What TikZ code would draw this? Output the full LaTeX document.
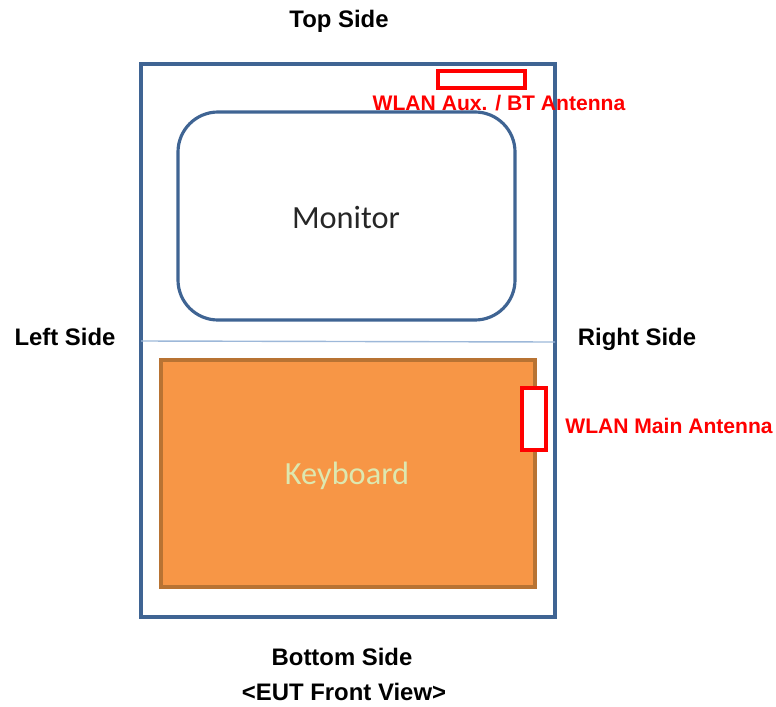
\documentclass[tikz,border=0pt]{standalone}
\usepackage{fontspec}
\setmainfont{Liberation Sans}
\newfontfamily\calibrifont{Carlito}
\definecolor{framecol}{HTML}{3F6493}
\definecolor{linecol}{HTML}{9DB8D9}
\definecolor{keyfill}{HTML}{F79646}
\definecolor{keyline}{HTML}{B87333}
\definecolor{keytext}{HTML}{DDE8B0}
\tikzset{
  sidelabel/.style={anchor=base, font=\bfseries\fontsize{13.6}{15}\selectfont, text=black},
  antlabel/.style={anchor=base, font=\bfseries\fontsize{12}{14}\selectfont, text=red},
  antbox/.style={draw=red, line width=2pt, fill=white},
  partlabel/.style={anchor=base, font=\calibrifont\fontsize{18.4}{20}\selectfont}
}
\begin{document}
\begin{tikzpicture}[x=0.02cm, y=-0.02cm]
        \useasboundingbox (0,0) rectangle (776,706);

        % Draw case
        \draw[framecol, line width=1.8pt] (141,64) rectangle (555,617);
        \draw[linecol, line width=0.8pt] (141,341) -- (555,342);

        % Draw monitor and keyboard
        \draw[framecol, line width=1.8pt, rounded corners=0.8cm] (178,112) rectangle (515,320);
        \draw[keyline, fill=keyfill, line width=1.8pt] (161,360) rectangle (535,587);

        % Draw antennas
        \draw[antbox] (438,71) rectangle (525,88);
        \draw[antbox] (522,388) rectangle (546,450);

        % Add part names
        \node[partlabel, text=black!85] (monitor) at (346,228) {Monitor};
        \node[partlabel, text=keytext] (keyboard) at (347,484) {Keyboard};

        % Add antenna names
        \node[antlabel] (auxname) at (499,110) {WLAN Aux. / BT Antenna};
        \node[antlabel] (mainname) at (669,433) {WLAN Main Antenna};

        % Add side names
        \node[sidelabel] (topside) at (339,28) {Top Side};
        \node[sidelabel] (leftside) at (65,345) {Left Side};
        \node[sidelabel] (rightside) at (637,345) {Right Side};
        \node[sidelabel] (bottomside) at (342,665) {Bottom Side};
        \node[sidelabel] (frontview) at (344,700) {<EUT Front View>};
    \end{tikzpicture}
\end{document}
